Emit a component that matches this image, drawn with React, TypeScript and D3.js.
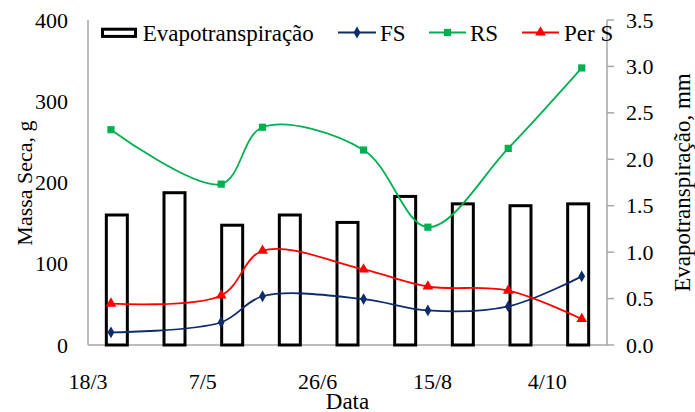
import React from "react";
import * as d3 from "d3";

const barCategories = ["1", "2", "3", "4", "5", "6", "7", "8", "9"];
const evapoValues = [1.40, 1.64, 1.29, 1.40, 1.32, 1.60, 1.52, 1.50, 1.52];

const sampleDates = ["2012-03-28", "2012-05-15", "2012-06-02", "2012-07-16", "2012-08-13", "2012-09-17", "2012-10-19"];
const fsValues = [15.6, 28, 60, 56.5, 42.5, 47.5, 84.5];
const rsValues = [265, 198, 268, 240, 145, 242, 341];
const perSValues = [51, 61, 116, 93, 72, 67, 32];

const xTickDates = ["2012-03-18", "2012-05-07", "2012-06-26", "2012-08-15", "2012-10-04"];
const xTickLabels = ["18/3", "7/5", "26/6", "15/8", "4/10"];
const leftTicks = [0, 100, 200, 300, 400];
const rightTicks = [0, 0.5, 1.0, 1.5, 2.0, 2.5, 3.0, 3.5];

const W = 695, H = 412;
const L = 88, R = 607, T = 20, B = 345;
const FONT = '"Liberation Serif", "Times New Roman", serif';
const AXIS = "#A6A6A6";

const parse = (s: string) => { const [y, m, d] = s.split("-").map(Number); return new Date(Date.UTC(y, m - 1, d)); };

export default function App() {
  const x = d3.scaleUtc().domain([parse("2012-03-18"), new Date(Date.UTC(2012, 2, 18 + 226))]).range([L, R]);
  const yL = d3.scaleLinear().domain([0, 400]).range([B, T]);
  const yR = d3.scaleLinear().domain([0, 3.5]).range([B, T]);
  const pInner = 1 - 21 / ((R - L) / 9);
  const band = d3.scaleBand<string>().domain(barCategories).range([L, R]).paddingInner(pInner).paddingOuter(pInner / 2);

  const mk = (vals: number[]) => vals.map((v, i) => [x(parse(sampleDates[i])), yL(v)] as [number, number]);
  const lineGen = d3.line().curve(d3.curveCatmullRom.alpha(0.5));
  const series = [
    { name: "FS", vals: fsValues, color: "#0E2B6B", marker: "diamond" },
    { name: "RS", vals: rsValues, color: "#00B050", marker: "square" },
    { name: "Per S", vals: perSValues, color: "#FF0000", marker: "triangle" },
  ];
  const sym = (m: string) => {
    if (m === "diamond") return d3.symbol(d3.symbolDiamond, 40)();
    if (m === "square") return d3.symbol(d3.symbolSquare, 52)();
    return d3.symbol(d3.symbolTriangle, 50)();
  };

  const legendLines = [
    { s: series[0], x1: 338, x2: 376, tx: 380 },
    { s: series[1], x1: 429, x2: 466, tx: 470 },
    { s: series[2], x1: 522, x2: 559, tx: 564 },
  ];

  return (
    <svg width={W} height={H} style={{ position: "absolute", left: 0, top: 0, background: "#fff" }} fontFamily={FONT}>
      {/* axes */}
      <line x1={L} x2={L} y1={T} y2={B} stroke={AXIS} strokeWidth={1.5} />
      <line x1={R} x2={R} y1={T} y2={B} stroke={AXIS} strokeWidth={1.5} />
      <line x1={L} x2={R} y1={B} y2={B} stroke={AXIS} strokeWidth={1.5} />
      {rightTicks.map((t) => (
        <line key={t} x1={R} x2={R + 7} y1={yR(t)} y2={yR(t)} stroke={AXIS} strokeWidth={1.5} />
      ))}
      {/* bars */}
      {evapoValues.map((v, i) => (
        <rect key={i} x={band(barCategories[i])!} y={yR(v)} width={band.bandwidth()} height={B - yR(v)}
          fill="#fff" stroke="#000" strokeWidth={3} />
      ))}
      {/* lines */}
      {series.map((s) => {
        const pts = mk(s.vals);
        return (
          <g key={s.name}>
            <path d={lineGen(pts)!} fill="none" stroke={s.color} strokeWidth={1.8} />
            {pts.map((p, i) => (
              <path key={i} d={sym(s.marker)!} transform={`translate(${p[0]},${p[1]})`} fill={s.color} />
            ))}
          </g>
        );
      })}
      {/* left tick labels */}
      {leftTicks.map((t) => (
        <text key={t} x={68} y={yL(t) + 7.5} textAnchor="end" fontSize={22} fill="#000">{t}</text>
      ))}
      {/* right tick labels */}
      {rightTicks.map((t) => (
        <text key={t} x={626} y={yR(t) + 7.5} textAnchor="start" fontSize={22} fill="#000">{t.toFixed(1)}</text>
      ))}
      {/* x tick labels */}
      {xTickDates.map((d, i) => (
        <text key={d} x={x(parse(d))} y={389} textAnchor="middle" fontSize={22} fill="#000">{xTickLabels[i]}</text>
      ))}
      <text x={(L + R) / 2} y={408.5} textAnchor="middle" fontSize={23} fill="#000">Data</text>
      <text transform={`translate(32,183) rotate(-90)`} textAnchor="middle" fontSize={22} fill="#000">Massa Seca, g</text>
      <text transform={`translate(690,182.5) rotate(-90)`} textAnchor="middle" fontSize={23} fill="#000">Evapotranspiração, mm</text>
      {/* legend */}
      <rect x={102.5} y={29.2} width={33} height={7.2} fill="#fff" stroke="#000" strokeWidth={3} />
      <text x={142.7} y={41} fontSize={23} fill="#000">Evapotranspiração</text>
      {legendLines.map((l) => (
        <g key={l.s.name}>
          <line x1={l.x1} x2={l.x2} y1={32.5} y2={32.5} stroke={l.s.color} strokeWidth={1.8} />
          <path d={sym(l.s.marker)!} transform={`translate(${(l.x1 + l.x2) / 2},32.5)`} fill={l.s.color} />
          <text x={l.tx} y={41} fontSize={23} fill="#000">{l.s.name}</text>
        </g>
      ))}
    </svg>
  );
}
